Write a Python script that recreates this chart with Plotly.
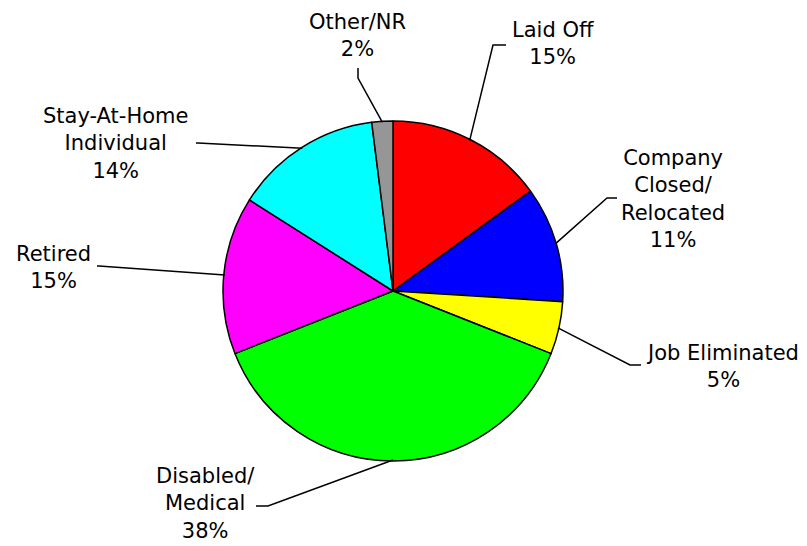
import math
import plotly.graph_objects as go

categories = ["Laid Off", "Company Closed/Relocated", "Job Eliminated",
              "Disabled/Medical", "Retired", "Stay-At-Home Individual", "Other/NR"]
values = [15, 11, 5, 38, 15, 14, 2]
label_text = ["Laid Off<br>15%", "Company<br>Closed/<br>Relocated<br>11%",
              "Job Eliminated<br>5%", "Disabled/<br>Medical<br>38%",
              "Retired<br>15%", "Stay-At-Home<br>Individual<br>14%", "Other/NR<br>2%"]
colors = ["#FF0000", "#0000FF", "#FFFF00", "#00FF00", "#FF00FF", "#00FFFF", "#969696"]

W, H = 807, 546
CX, CY, R = 393, 291, 170

# label layout (pixel coords): elbow point, end of short segment, label center
elbows = [(493, 45), (607, 198), (630, 365), (268, 506), (99, 266), (198, 143), (358, 78)]
ends = [(506, 45), (617, 198), (641, 365), (256, 506), (97, 266), (196, 143), (358, 68)]
label_pos = [(553, 43), (673, 199), (722, 366), (205, 503), (53, 267), (115, 143), (357, 35)]

fig = go.Figure()
fig.add_trace(go.Pie(
    values=values, labels=categories, sort=False, direction="clockwise", rotation=0,
    marker=dict(colors=colors, line=dict(color="black", width=1.5)),
    textinfo="none", hoverinfo="none", showlegend=False,
    domain=dict(x=[(CX - R) / W, (CX + R) / W], y=[1 - (CY + R) / H, 1 - (CY - R) / H]),
))

total = sum(values)
cum = 0
shapes = []
annotations = []
for i, v in enumerate(values):
    mid = (cum + v / 2) / total * 2 * math.pi
    cum += v
    sx = CX + (R - 1) * math.sin(mid)
    sy = CY - (R - 1) * math.cos(mid)
    ex, ey = elbows[i]
    fx, fy = ends[i]
    shapes.append(dict(type="path", xref="x", yref="y",
                       path=f"M {sx:.1f} {sy:.1f} L {ex} {ey} L {fx} {fy}",
                       line=dict(color="black", width=1.5)))
    lx, ly = label_pos[i]
    annotations.append(dict(x=lx, y=ly, xref="x", yref="y", text=label_text[i],
                            showarrow=False, align="center",
                            font=dict(family="DejaVu Sans", size=21, color="black")))

fig.update_layout(
    width=W, height=H, margin=dict(l=0, r=0, t=0, b=0),
    paper_bgcolor="white", plot_bgcolor="rgba(0,0,0,0)",
    xaxis=dict(range=[0, W], visible=False, fixedrange=True),
    yaxis=dict(range=[H, 0], visible=False, fixedrange=True),
    shapes=shapes, annotations=annotations,
)
fig.write_html("out.html", config={"displayModeBar": False, "staticPlot": True},
               post_script="document.body.style.margin='0';document.body.style.overflow='hidden';")
